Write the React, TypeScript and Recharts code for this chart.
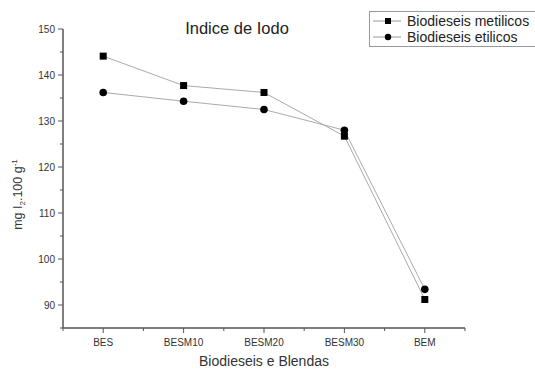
import { LineChart, Line, XAxis, YAxis } from "recharts";

const categories = ["BES", "BESM10", "BESM20", "BESM30", "BEM"];
const metilicos = [144.1, 137.7, 136.2, 126.7, 91.2];
const etilicos = [136.2, 134.3, 132.5, 128.0, 93.4];
const yTicks = [85, 90, 95, 100, 105, 110, 115, 120, 125, 130, 135, 140, 145, 150];
const xTicks = [-0.5, 0, 0.5, 1, 1.5, 2, 2.5, 3, 3.5, 4, 4.5];

const data = categories.map((name, i) => ({
  idx: i,
  name,
  metilicos: metilicos[i],
  etilicos: etilicos[i],
}));

const AXIS = "#555";
const TEXT = "#333";
const FONT = "'Liberation Sans', Arial, sans-serif";

function YTick(props: any) {
  const { x, y, payload } = props;
  const major = payload.value % 10 === 0;
  return (
    <g>
      <line x1={x} x2={x - (major ? 5 : 3)} y1={y} y2={y} stroke={AXIS} strokeWidth={1} />
      {major && (
        <text x={x - 8} y={y} dy={3.5} textAnchor="end" fontSize={10} fill={TEXT} fontFamily={FONT}>
          {payload.value}
        </text>
      )}
    </g>
  );
}

function XTick(props: any) {
  const { x, y, payload } = props;
  const major = Number.isInteger(payload.value);
  return (
    <g>
      <line x1={x} x2={x} y1={y} y2={y + (major ? 5 : 3)} stroke={AXIS} strokeWidth={1} />
      {major && (
        <text x={x} y={y + 18} textAnchor="middle" fontSize={10} fill={TEXT} fontFamily={FONT}>
          {categories[payload.value]}
        </text>
      )}
    </g>
  );
}

function SquareDot(props: any) {
  const { cx, cy } = props;
  if (cx == null || cy == null) return null;
  return <rect x={cx - 3.5} y={cy - 3.5} width={7} height={7} fill="#000" />;
}

function CircleDot(props: any) {
  const { cx, cy } = props;
  if (cx == null || cy == null) return null;
  return <circle cx={cx} cy={cy} r={3.8} fill="#000" />;
}

function YLabel(props: any) {
  const { viewBox } = props;
  const cy = viewBox.y + viewBox.height / 2 + 16;
  const cx = 22;
  return (
    <text
      transform={`translate(${cx},${cy}) rotate(-90)`}
      textAnchor="middle"
      fontSize={12.5}
      fill={TEXT}
      fontFamily={FONT}
    >
      mg I
      <tspan fontSize={8} dy={3}>2</tspan>
      <tspan dy={-3}>.100 g</tspan>
      <tspan fontSize={8} dy={-5}>-1</tspan>
    </text>
  );
}

function LegendBox() {
  const rows = [
    { label: "Biodieseis metilicos", square: true },
    { label: "Biodieseis etilicos", square: false },
  ];
  return (
    <svg
      width={170}
      height={38}
      style={{ position: "absolute", left: 369, top: 11, overflow: "visible" }}
    >
      <rect x={0.5} y={0.5} width={175} height={35} fill="#fff" stroke="#999" strokeWidth={1} />
      {rows.map((r, i) => {
        const y = 10 + i * 16;
        return (
          <g key={r.label}>
            <line x1={4} x2={32} y1={y} y2={y} stroke="#999" strokeWidth={1} />
            {r.square ? (
              <rect x={16} y={y - 3} width={6} height={6} fill="#000" />
            ) : (
              <circle cx={19} cy={y} r={3.2} fill="#000" />
            )}
            <text x={38} y={y + 5} fontSize={14} fill="#222" fontFamily={FONT}>
              {r.label}
            </text>
          </g>
        );
      })}
    </svg>
  );
}

export default function App() {
  return (
    <div style={{ position: "absolute", left: 0, top: 0, width: 535, height: 369, background: "#fff", overflow: "hidden" }}>
      <LineChart
        width={535}
        height={369}
        data={data}
        margin={{ top: 29, right: 70, bottom: 0, left: 0 }}
      >
        <XAxis
          dataKey="idx"
          type="number"
          domain={[-0.5, 4.5]}
          ticks={xTicks}
          interval={0}
          tickSize={0}
          tickMargin={0}
          tickLine={false}
          tick={<XTick />}
          height={41}
          stroke={AXIS}
          strokeWidth={1.5}
          label={{
            value: "Biodieseis e Blendas",
            position: "insideBottom",
            offset: 3,
            fontSize: 14,
            fill: TEXT,
            fontFamily: FONT,
          }}
        />
        <YAxis
          type="number"
          domain={[85, 150]}
          ticks={yTicks}
          interval={0}
          width={63}
          tickSize={0}
          tickMargin={0}
          tickLine={false}
          tick={<YTick />}
          stroke={AXIS}
          strokeWidth={1.5}
          label={<YLabel />}
        />
        <Line
          type="linear"
          dataKey="metilicos"
          name="Biodieseis metilicos"
          stroke="#aaa"
          strokeWidth={1}
          dot={<SquareDot />}
          isAnimationActive={false}
        />
        <Line
          type="linear"
          dataKey="etilicos"
          name="Biodieseis etilicos"
          stroke="#aaa"
          strokeWidth={1}
          dot={<CircleDot />}
          isAnimationActive={false}
        />
      </LineChart>
      <LegendBox />
      <div
        style={{
          position: "absolute",
          left: 137,
          top: 18,
          width: 200,
          textAlign: "center",
          fontFamily: FONT,
          fontSize: 16.5,
          color: "#222",
          lineHeight: "20px",
        }}
      >
        Indice de Iodo
      </div>
    </div>
  );
}
